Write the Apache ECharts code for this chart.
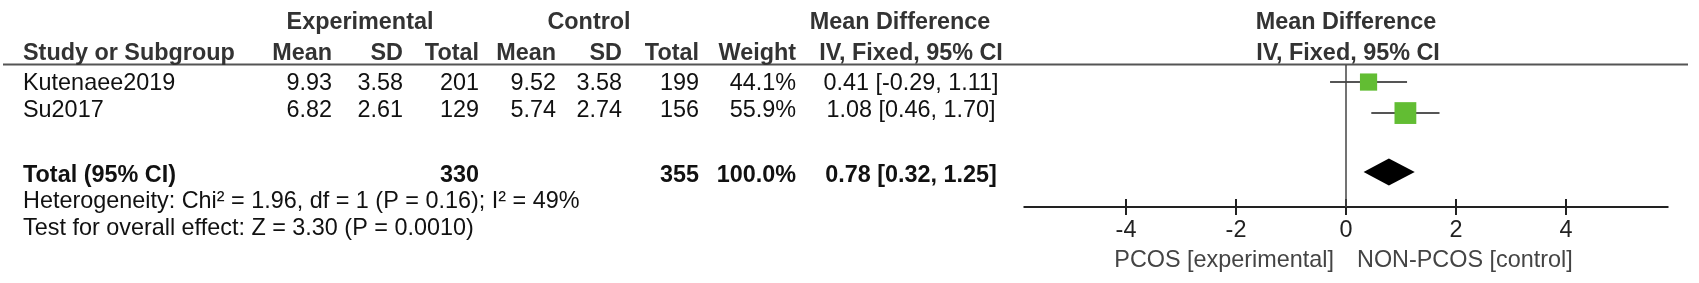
<!doctype html>
<html lang="en">
<head>
<meta charset="UTF-8">
<title>Forest plot - Mean Difference</title>
<style>
    html, body { margin: 0; padding: 0; background: #fff; }
    #main { width: 1699px; height: 283px; }
</style>
</head>
<body>
<div id="main"></div>
<script src="https://cdn.jsdelivr.net/npm/echarts@6/dist/echarts.min.js"></script>
<script>
// values
var studies = ['Kutenaee2019', 'Su2017'];
var expMean = [9.93, 6.82];
var expSD = [3.58, 2.61];
var expTotal = [201, 129];
var ctrlMean = [9.52, 5.74];
var ctrlSD = [3.58, 2.74];
var ctrlTotal = [199, 156];
var weights = [44.1, 55.9];
var md = [0.41, 1.08];
var ciLow = [-0.29, 0.46];
var ciHigh = [1.11, 1.70];
var pooledMd = 0.78, pooledLow = 0.32, pooledHigh = 1.25;
var sumExp = 330, sumCtrl = 355, sumWeight = 100.0;
var tickValues = [-4, -2, 0, 2, 4];
var hetText = 'Heterogeneity: Chi\u00b2 = 1.96, df = 1 (P = 0.16); I\u00b2 = 49%';
var effectText = 'Test for overall effect: Z = 3.30 (P = 0.0010)';
var favoursLeft = 'PCOS [experimental]';
var favoursRight = 'NON-PCOS [control]';

var FONT = '"Liberation Sans", Arial, Helvetica, sans-serif';
var FS = 23.4;

// table layout (pixels)
var colLeft = 23;
var col = { expMean: 332, expSD: 403, expTotal: 479, ctrlMean: 556, ctrlSD: 622, ctrlTotal: 699, weight: 796 };
var ciCenter = 911;
var rowY = { head1: 23, head2: 54, total: 175.5, het: 202, effect: 229 };
var studyY = [84, 111];

function txt(s, x, y, align, bold, color) {
    return {
        type: 'text', x: x, y: y, silent: true,
        style: {
            text: s, fill: color || '#111',
            font: (bold ? 'bold ' : '') + FS + 'px ' + FONT,
            align: align || 'left', verticalAlign: 'middle'
        }
    };
}
function ci(m, l, h) {
    return m.toFixed(2) + ' [' + l.toFixed(2) + ', ' + h.toFixed(2) + ']';
}

var myChart = echarts.init(document.getElementById('main'));

var studyData = studies.map(function (s, i) {
    return [md[i], ciLow[i], ciHigh[i], i + 1, weights[i]];
});

var option = {
    animation: false,
    grid: { left: 1024.25, width: 643.5, top: 65, height: 142 },
    xAxis: [{
        type: 'value', min: -5.85, max: 5.85,
        axisLine: { lineStyle: { color: '#222', width: 2 } },
        axisTick: { customValues: tickValues, length: 8, lineStyle: { color: '#222', width: 2 } },
        axisLabel: { customValues: tickValues, margin: 12, fontSize: FS, fontFamily: FONT, color: '#222' },
        splitLine: { show: false }
    }, {
        type: 'value', min: -5.85, max: 5.85, position: 'bottom', offset: 0,
        axisLine: { show: false },
        axisTick: { customValues: tickValues, inside: true, length: 8, lineStyle: { color: '#222', width: 2 } },
        axisLabel: { show: false },
        splitLine: { show: false }
    }],
    yAxis: { type: 'value', inverse: true, min: 0.45, max: 5.03, show: false },
    series: [{
        type: 'custom',
        name: 'studies',
        data: studyData,
        encode: { x: [0, 1, 2], y: 3 },
        renderItem: function (params, api) {
            var c = api.coord([api.value(0), api.value(3)]);
            var l = api.coord([api.value(1), api.value(3)]);
            var r = api.coord([api.value(2), api.value(3)]);
            var s = api.value(4) * 0.39;
            return {
                type: 'group',
                children: [{
                    type: 'line',
                    shape: { x1: l[0], y1: l[1], x2: r[0], y2: r[1] },
                    style: { stroke: '#555', lineWidth: 2 }
                }, {
                    type: 'rect',
                    shape: { x: c[0] - s / 2, y: c[1] - s / 2, width: s, height: s },
                    style: { fill: '#62bd33' }
                }]
            };
        },
        markLine: {
            silent: true, symbol: 'none', label: { show: false },
            lineStyle: { color: '#444', width: 1.5, type: 'solid' },
            data: [{ xAxis: 0 }]
        }
    }, {
        type: 'custom',
        name: 'total',
        data: [[pooledMd, pooledLow, pooledHigh, 3.9]],
        encode: { x: [0, 1, 2], y: 3 },
        renderItem: function (params, api) {
            var c = api.coord([api.value(0), api.value(3)]);
            var l = api.coord([api.value(1), api.value(3)]);
            var r = api.coord([api.value(2), api.value(3)]);
            var h = 13.5;
            return {
                type: 'polygon',
                shape: { points: [[l[0], c[1]], [c[0], c[1] - h], [r[0], c[1]], [c[0], c[1] + h]] },
                style: { fill: '#000' }
            };
        }
    }]
};
myChart.setOption(option);

// table text
var g = [];
g.push({ type: 'line', silent: true, shape: { x1: 3, y1: 64.5, x2: 1688, y2: 64.5 }, style: { stroke: '#555', lineWidth: 2 } });

g.push(txt('Experimental', 360, rowY.head1, 'center', true, '#333'));
g.push(txt('Control', 589, rowY.head1, 'center', true, '#333'));
g.push(txt('Mean Difference', 900, rowY.head1, 'center', true, '#333'));
g.push(txt('Study or Subgroup', colLeft, rowY.head2, 'left', true, '#333'));
g.push(txt('Mean', col.expMean, rowY.head2, 'right', true, '#333'));
g.push(txt('SD', col.expSD, rowY.head2, 'right', true, '#333'));
g.push(txt('Total', col.expTotal, rowY.head2, 'right', true, '#333'));
g.push(txt('Mean', col.ctrlMean, rowY.head2, 'right', true, '#333'));
g.push(txt('SD', col.ctrlSD, rowY.head2, 'right', true, '#333'));
g.push(txt('Total', col.ctrlTotal, rowY.head2, 'right', true, '#333'));
g.push(txt('Weight', col.weight, rowY.head2, 'right', true, '#333'));
g.push(txt('IV, Fixed, 95% CI', ciCenter, rowY.head2, 'center', true, '#333'));

studies.forEach(function (s, i) {
    var y = studyY[i];
    g.push(txt(s, colLeft, y, 'left'));
    g.push(txt(expMean[i].toFixed(2), col.expMean, y, 'right'));
    g.push(txt(expSD[i].toFixed(2), col.expSD, y, 'right'));
    g.push(txt(String(expTotal[i]), col.expTotal, y, 'right'));
    g.push(txt(ctrlMean[i].toFixed(2), col.ctrlMean, y, 'right'));
    g.push(txt(ctrlSD[i].toFixed(2), col.ctrlSD, y, 'right'));
    g.push(txt(String(ctrlTotal[i]), col.ctrlTotal, y, 'right'));
    g.push(txt(weights[i].toFixed(1) + '%', col.weight, y, 'right'));
    g.push(txt(ci(md[i], ciLow[i], ciHigh[i]), ciCenter, y, 'center'));
});

g.push(txt('Total (95% CI)', colLeft, rowY.total, 'left', true));
g.push(txt(String(sumExp), col.expTotal, rowY.total, 'right', true));
g.push(txt(String(sumCtrl), col.ctrlTotal, rowY.total, 'right', true));
g.push(txt(sumWeight.toFixed(1) + '%', col.weight, rowY.total, 'right', true));
g.push(txt(ci(pooledMd, pooledLow, pooledHigh), ciCenter, rowY.total, 'center', true));
g.push(txt(hetText, colLeft, rowY.het, 'left'));
g.push(txt(effectText, colLeft, rowY.effect, 'left'));

// plot headers and favours labels, placed from the axis scale
var zeroX = myChart.convertToPixel({ xAxisIndex: 0 }, 0);
g.push(txt('Mean Difference', zeroX, rowY.head1, 'center', true, '#333'));
g.push(txt('IV, Fixed, 95% CI', zeroX + 2, rowY.head2, 'center', true, '#333'));
g.push(txt(favoursLeft, zeroX - 12, 261, 'right', false, '#444'));
g.push(txt(favoursRight, zeroX + 11, 261, 'left', false, '#444'));

myChart.setOption({ graphic: g });
</script>
</body>
</html>
